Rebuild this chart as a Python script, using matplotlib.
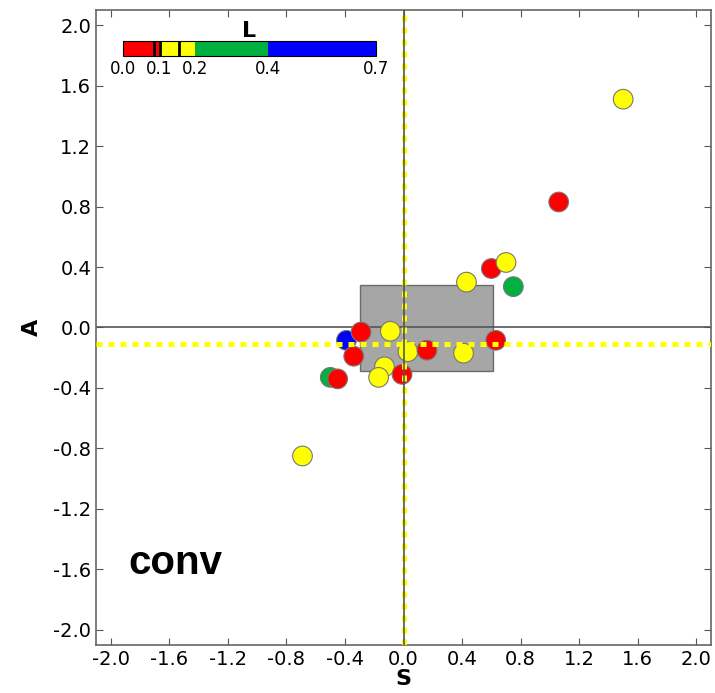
import matplotlib
matplotlib.use("Agg")
import matplotlib.pyplot as plt
from matplotlib.colors import ListedColormap, BoundaryNorm
from matplotlib.colorbar import ColorbarBase
from matplotlib.patches import Rectangle

# S, A coordinates and L value per object
S = [1.50, 1.06, 0.43, 0.60, 0.70, 0.75, -0.39, -0.29, -0.09, -0.34,
     0.03, 0.16, 0.41, 0.63, -0.13, -0.17, -0.01, -0.50, -0.45, -0.69]
A = [1.51, 0.83, 0.30, 0.39, 0.43, 0.27, -0.085, -0.03, -0.025, -0.19,
     -0.16, -0.15, -0.17, -0.085, -0.26, -0.33, -0.31, -0.33, -0.34, -0.85]
L = [0.15, 0.05, 0.15, 0.05, 0.15, 0.30, 0.50, 0.05, 0.15, 0.05,
     0.15, 0.05, 0.15, 0.05, 0.15, 0.15, 0.05, 0.30, 0.05, 0.15]

L_bounds = [0.0, 0.1, 0.2, 0.4, 0.7]
L_colors = ['#ff0000', '#ffff00', '#00b140', '#0000ff']
L_marks = [0.085, 0.102, 0.155]

# reference box and mean offsets
box_s = (-0.30, 0.61)
box_a = (-0.29, 0.28)
mean_s = 0.005
mean_a = -0.11

cmap = ListedColormap(L_colors)
norm = BoundaryNorm(L_bounds, cmap.N)

fig = plt.figure(figsize=(7.15, 6.93), dpi=100)
ax = fig.add_axes([0.1343, 0.0693, 0.8601, 0.9163])

ax.add_patch(Rectangle((box_s[0], box_a[0]), box_s[1] - box_s[0], box_a[1] - box_a[0],
                       facecolor='gray', alpha=0.7, edgecolor='#404040', lw=1, zorder=1))
ax.axhline(0, color='#555555', lw=1.2, zorder=2)

ax.scatter(S, A, c=L, cmap=cmap, norm=norm, s=200, edgecolors='#777777',
           linewidths=0.8, zorder=3)

ax.axhline(mean_a, color='#ffff00', lw=3.6, dashes=(1.2, 1.2), zorder=4)
ax.axvline(mean_s, color='#ffff00', lw=3.6, dashes=(1.2, 1.2), zorder=4)
ax.axvline(0, color='#555555', lw=1.2, zorder=5)

ax.set_xlim(-2.1, 2.1)
ax.set_ylim(-2.1, 2.1)
ticks = [-2.0, -1.6, -1.2, -0.8, -0.4, 0.0, 0.4, 0.8, 1.2, 1.6, 2.0]
ax.set_xticks(ticks)
ax.set_yticks(ticks)
ax.set_xticklabels(['%.1f' % t if t != 0 else '0.0' for t in ticks])
ax.set_yticklabels(['%.1f' % t if t != 0 else '0.0' for t in ticks])
ax.tick_params(direction='in', top=True, right=True, length=5, labelsize=14,
               color='#555555')
for sp in ax.spines.values():
    sp.set_color('#666666')
    sp.set_linewidth(1.2)

ax.set_xlabel('S', fontsize=16, fontweight='bold', labelpad=0)
ax.set_ylabel('A', fontsize=16, fontweight='bold', labelpad=8)

ax.text(-1.88, -1.63, 'conv', family='Liberation Sans', fontweight='bold',
        fontsize=29, ha='left', va='baseline')

# L colour bar
cax = fig.add_axes([0.172, 0.9192, 0.354, 0.0216])
cb = ColorbarBase(cax, cmap=cmap, norm=norm, orientation='horizontal',
                  spacing='proportional', ticks=L_bounds)
cb.ax.set_xticklabels(['0.0', '0.1', '0.2', '0.4', '0.7'])
cb.ax.tick_params(labelsize=12, length=0, pad=3)
cb.outline.set_linewidth(0.8)
for m in L_marks:
    cax.axvline(m, color='black', lw=2)
cax.set_title('L', fontsize=16, fontweight='bold', pad=1)

fig.savefig('out.png', dpi=100)
